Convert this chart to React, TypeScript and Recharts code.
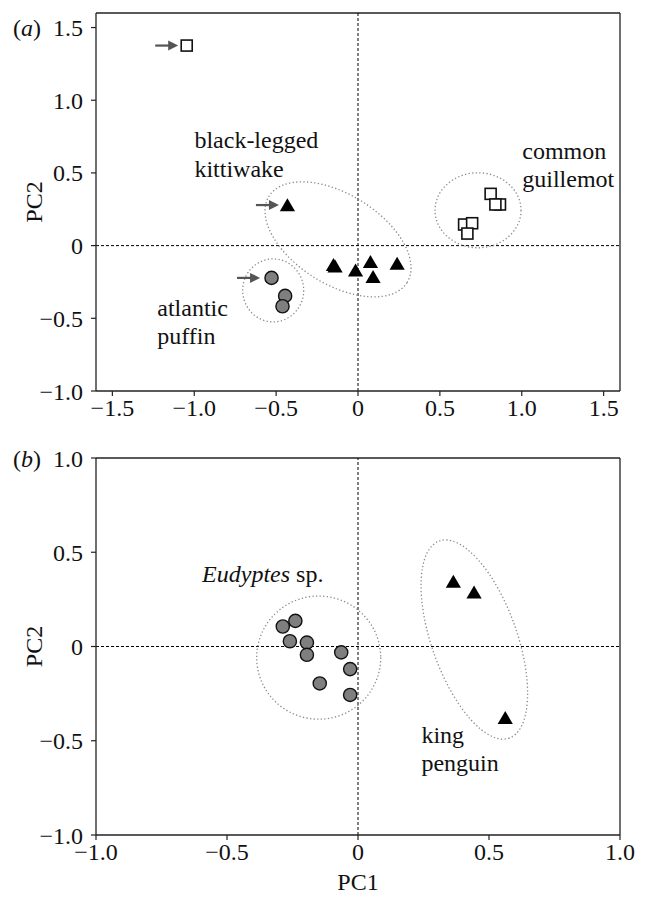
import React from "react";
import { ScatterChart, Scatter, XAxis, YAxis, ReferenceLine, Label } from "recharts";

const FONT = '"Liberation Serif", "Times New Roman", serif';
const INK = "#111";
const AXIS = "#222";

// ---- panel (a): seabirds of the north
const GUILLEMOT_A = [
  { x: -1.046, y: 1.376 },
  { x: 0.81, y: 0.356 },
  { x: 0.867, y: 0.283 },
  { x: 0.839, y: 0.283 },
  { x: 0.648, y: 0.145 },
  { x: 0.697, y: 0.154 },
  { x: 0.668, y: 0.083 },
];
const KITTIWAKE_A = [
  { x: -0.431, y: 0.279 },
  { x: -0.15, y: -0.132 },
  { x: -0.14, y: -0.142 },
  { x: -0.015, y: -0.169 },
  { x: 0.076, y: -0.111 },
  { x: 0.092, y: -0.215 },
  { x: 0.239, y: -0.123 },
];
const PUFFIN_A = [
  { x: -0.528, y: -0.222 },
  { x: -0.445, y: -0.346 },
  { x: -0.461, y: -0.417 },
];
const ARROWS_A = [
  { x: -1.046, y: 1.376, kind: "square" },
  { x: -0.431, y: 0.279, kind: "triangle" },
  { x: -0.528, y: -0.222, kind: "circle" },
];
const ELLIPSES_A = [
  { x: -0.122, y: 0.043, name: "kittiwake" },
  { x: -0.518, y: -0.308, name: "puffin" },
  { x: 0.733, y: 0.243, name: "guillemot" },
];
const LABELS_A = [
  { x: -0.999, y: 0.671, lines: ["black-legged", "kittiwake"] },
  { x: 1.003, y: 0.596, lines: ["common", "guillemot"] },
  { x: -1.226, y: -0.484, lines: ["atlantic", "puffin"] },
];
const X_TICKS_A = [-1.5, -1, -0.5, 0, 0.5, 1, 1.5];
const Y_TICKS_A = [-1, -0.5, 0, 0.5, 1, 1.5];

// ---- panel (b): penguins
const EUDYPTES_B = [
  { x: -0.287, y: 0.106 },
  { x: -0.239, y: 0.136 },
  { x: -0.26, y: 0.028 },
  { x: -0.195, y: 0.021 },
  { x: -0.195, y: -0.044 },
  { x: -0.064, y: -0.031 },
  { x: -0.03, y: -0.12 },
  { x: -0.146, y: -0.196 },
  { x: -0.03, y: -0.257 },
];
const KING_B = [
  { x: 0.364, y: 0.344 },
  { x: 0.443, y: 0.287 },
  { x: 0.562, y: -0.378 },
];
const ELLIPSES_B = [
  { x: -0.15, y: -0.059, name: "eudyptes" },
  { x: 0.444, y: 0.037, name: "king" },
];
const LABELS_B = [
  { x: -0.595, y: 0.342, lines: ["Eudyptes| sp."] },
  { x: 0.242, y: -0.511, lines: ["king", "penguin"] },
];
const X_TICKS_B = [-1, -0.5, 0, 0.5, 1];
const Y_TICKS_B = [-1, -0.5, 0, 0.5, 1];

// ellipse outlines in screen pixels (semi-axes, rotation)
const ELLIPSE_GEOM: Record<string, { rx: number; ry: number; angle: number }> = {
  kittiwake: { rx: 81.4, ry: 44.9, angle: 32 },
  puffin: { rx: 30.5, ry: 31.5, angle: 0 },
  guillemot: { rx: 43, ry: 37.5, angle: 0 },
  eudyptes: { rx: 62, ry: 61.6, angle: 0 },
  king: { rx: 104.6, ry: 42.7, angle: 70.5 },
};

const fmt = (v: number) => (v === 0 ? "0" : (v < 0 ? "\u2212" : "") + Math.abs(v).toFixed(1));

const SquareDot = ({ cx, cy }: any) => (
  <rect x={cx - 5.5} y={cy - 5.5} width={11} height={11} fill="#fff" stroke={INK} strokeWidth={1.6} />
);

const TriangleDot = ({ cx, cy }: any) => (
  <path d={`M${cx},${cy - 6.8} L${cx + 7.6},${cy + 6.2} L${cx - 7.6},${cy + 6.2} Z`} fill="#000" />
);

const CircleDot = ({ cx, cy }: any) => (
  <circle cx={cx} cy={cy} r={6.6} fill="#7f7f7f" stroke={INK} strokeWidth={1.4} />
);

const ArrowMark = ({ cx, cy, payload }: any) => {
  const tip = cx - (payload.kind === "circle" ? 11.5 : 8.5);
  return (
    <g>
      <line x1={tip - 23} y1={cy} x2={tip - 8} y2={cy} stroke="#555" strokeWidth={2.2} />
      <path d={`M${tip},${cy} L${tip - 10},${cy - 5} L${tip - 10},${cy + 5} Z`} fill="#555" />
    </g>
  );
};

const EllipseMark = ({ cx, cy, payload }: any) => {
  const g = ELLIPSE_GEOM[payload.name];
  return (
    <ellipse
      cx={cx}
      cy={cy}
      rx={g.rx}
      ry={g.ry}
      transform={`rotate(${g.angle} ${cx} ${cy})`}
      fill="none"
      stroke="#8a8a8a"
      strokeWidth={1.3}
      strokeDasharray="1.3 2.3"
    />
  );
};

// "word|rest" renders the part before | in italics
const TextMark = ({ cx, cy, payload }: any) => (
  <text x={cx} y={cy} fontFamily={FONT} fontSize={24} fill={INK}>
    {payload.lines.map((line: string, i: number) => {
      const [it, rest] = line.includes("|") ? line.split("|") : ["", line];
      return (
        <tspan key={i} x={cx} dy={i === 0 ? 0 : 28.5}>
          {it && <tspan fontStyle="italic">{it}</tspan>}
          {rest}
        </tspan>
      );
    })}
  </text>
);

const PC2Title = ({ viewBox }: any) => {
  const vb = viewBox ?? { x: 0, y: 13, width: 96, height: 378 };
  const x = vb.x + 34;
  const y = vb.y + vb.height / 2;
  return (
    <text x={x} y={y} transform={`rotate(-90 ${x} ${y})`} textAnchor="middle" dy="0.35em" fontFamily={FONT} fontSize={24} fill={INK}>
      PC2
    </text>
  );
};

const PanelTag = ({ viewBox, tag, dy }: any) => {
  const vb = viewBox ?? { x: 0, y: 13 };
  return (
    <text x={vb.x + 13} y={vb.y + dy} dy="0.355em" fontFamily={FONT} fontSize={24} fill={INK}>
      (<tspan fontStyle="italic">{tag}</tspan>)
    </text>
  );
};

const PC1Title = ({ viewBox }: any) => {
  const vb = viewBox ?? { x: 96, y: 390, width: 524, height: 62 };
  return (
    <text x={vb.x + vb.width / 2} y={vb.y + vb.height - 7} textAnchor="middle" fontFamily={FONT} fontSize={24} fill={INK}>
      PC1
    </text>
  );
};

const tickStyle = { fontSize: 24, fontFamily: FONT, fill: INK };

type PanelProps = {
  height: number;
  xDomain: [number, number];
  yDomain: [number, number];
  xTicks: number[];
  yTicks: number[];
  xAxisHeight: number;
  tag: string;
  tagDy: number;
  showPC1?: boolean;
  children: React.ReactNode;
};

const Panel = ({ height, xDomain, yDomain, xTicks, yTicks, xAxisHeight, tag, tagDy, showPC1, children }: PanelProps) => (
  <ScatterChart width={650} height={height} margin={{ top: 13, right: 30, bottom: 0, left: 0 }}>
    <XAxis
      type="number"
      dataKey="x"
      domain={xDomain}
      ticks={xTicks}
      interval={0}
      tickFormatter={fmt}
      tick={tickStyle}
      tickSize={5}
      tickMargin={3}
      axisLine={{ stroke: AXIS, strokeWidth: 1.3 }}
      tickLine={{ stroke: AXIS, strokeWidth: 1.2 }}
      height={xAxisHeight}
    >
      {showPC1 && <Label content={(p: any) => <PC1Title {...p} />} />}
    </XAxis>
    <YAxis
      type="number"
      dataKey="y"
      domain={yDomain}
      ticks={yTicks}
      interval={0}
      tickFormatter={fmt}
      tick={tickStyle}
      tickSize={5}
      tickMargin={8}
      axisLine={{ stroke: AXIS, strokeWidth: 1.3 }}
      tickLine={{ stroke: AXIS, strokeWidth: 1.2 }}
      width={96}
    >
      <Label content={(p: any) => <PC2Title {...p} />} />
      <Label content={(p: any) => <PanelTag {...p} tag={tag} dy={tagDy} />} />
    </YAxis>
    <ReferenceLine x={xDomain[1]} stroke={AXIS} strokeWidth={1.3} />
    <ReferenceLine y={yDomain[1]} stroke={AXIS} strokeWidth={1.3} />
    <ReferenceLine x={0} stroke="#000" strokeWidth={1} strokeDasharray="3 2" />
    <ReferenceLine y={0} stroke="#000" strokeWidth={1} strokeDasharray="3 2" />
    {children}
  </ScatterChart>
);

export default function App() {
  return (
    <div style={{ position: "absolute", left: 0, top: 0, width: 650, height: 897, background: "#fff" }}>
      <Panel
        height={441}
        xDomain={[-1.6, 1.6]}
        yDomain={[-1, 1.6]}
        xTicks={X_TICKS_A}
        yTicks={Y_TICKS_A}
        xAxisHeight={50}
        tag="a"
        tagDy={14.7}
      >
        <Scatter data={ELLIPSES_A} shape={EllipseMark} isAnimationActive={false} />
        <Scatter data={LABELS_A} shape={TextMark} isAnimationActive={false} />
        <Scatter data={ARROWS_A} shape={ArrowMark} isAnimationActive={false} />
        <Scatter data={PUFFIN_A} shape={CircleDot} isAnimationActive={false} />
        <Scatter data={KITTIWAKE_A} shape={TriangleDot} isAnimationActive={false} />
        <Scatter data={GUILLEMOT_A} shape={SquareDot} isAnimationActive={false} />
      </Panel>
      <div style={{ position: "absolute", left: 0, top: 445 }}>
        <Panel
          height={452}
          xDomain={[-1, 1]}
          yDomain={[-1, 1]}
          xTicks={X_TICKS_B}
          yTicks={Y_TICKS_B}
          xAxisHeight={62}
          tag="b"
          tagDy={0}
          showPC1
        >
          <Scatter data={ELLIPSES_B} shape={EllipseMark} isAnimationActive={false} />
          <Scatter data={LABELS_B} shape={TextMark} isAnimationActive={false} />
          <Scatter data={EUDYPTES_B} shape={CircleDot} isAnimationActive={false} />
          <Scatter data={KING_B} shape={TriangleDot} isAnimationActive={false} />
        </Panel>
      </div>
    </div>
  );
}
